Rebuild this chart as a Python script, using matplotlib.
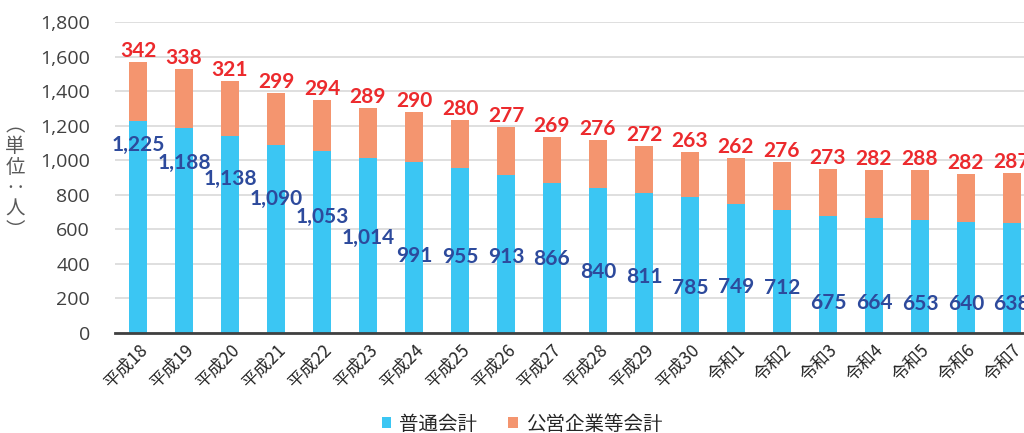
import matplotlib
matplotlib.use("Agg")
import matplotlib.pyplot as plt
import numpy as np
from matplotlib.patches import Patch

plt.rcParams["font.family"] = ["Noto Sans CJK JP", "DejaVu Sans"]

# ── データ ──
years = ["平成18", "平成19", "平成20", "平成21", "平成22", "平成23", "平成24",
         "平成25", "平成26", "平成27", "平成28", "平成29", "平成30",
         "令和1", "令和2", "令和3", "令和4", "令和5", "令和6", "令和7"]
general = [1225, 1188, 1138, 1090, 1053, 1014, 991, 955, 913, 866,
           840, 811, 785, 749, 712, 675, 664, 653, 640, 638]
enterprise = [342, 338, 321, 299, 294, 289, 290, 280, 277, 269,
              276, 272, 263, 262, 276, 273, 282, 288, 282, 287]

# 普通会計ラベルの縦位置（元図で手動配置されている）
label_y = [1088, 984, 891, 775, 671, 550, 446, 440, 440, 428,
           353, 324, 260, 266, 260, 174, 174, 168, 168, 168]

BLUE = "#3BC6F3"
SALMON = "#F4956F"
RED = "#EC2A2D"
NAVY = "#2D4A9C"

fig = plt.figure(figsize=(10.24, 4.33), dpi=100)
ax = fig.add_axes([115 / 1024, 100 / 433, 920 / 1024, 311 / 433])

x = np.arange(len(years))
w = 0.39
ax.bar(x, general, width=w, color=BLUE, edgecolor="none", zorder=2)
ax.bar(x, enterprise, width=w, bottom=general, color=SALMON,
       edgecolor="none", zorder=2)

num_font = dict(family=["Lato", "DejaVu Sans"], fontweight="bold", fontsize=15)
for xi, g, e, ly in zip(x, general, enterprise, label_y):
    ax.text(xi, ly, f"{g:,}", ha="center", va="center", color=NAVY,
            zorder=3, clip_on=False, **num_font)
    ax.text(xi, g + e + 6, f"{e:,}", ha="center", va="bottom", color=RED,
            zorder=3, clip_on=False, **num_font)

ax.set_xlim(-0.5, len(years) - 0.5)
ax.set_ylim(0, 1800)
ax.set_yticks(np.arange(0, 1801, 200))
ax.set_yticklabels([f"{v:,}" for v in range(0, 1801, 200)],
                   fontsize=14, color="#404040", family=["Open Sans", "DejaVu Sans"])
ax.set_xticks(x)
ax.set_xticklabels(years, rotation=45, ha="right", rotation_mode="anchor",
                   fontsize=12.5, color="#262626")
ax.tick_params(axis="y", length=0, pad=18)
ax.tick_params(axis="x", length=0, pad=6)

ax.yaxis.grid(True, color="#D9D9D9", linewidth=1.2, zorder=0)
ax.set_axisbelow(True)
for s in ["top", "right", "left"]:
    ax.spines[s].set_visible(False)
ax.spines["bottom"].set_color("#404040")
ax.spines["bottom"].set_linewidth(2)
ax.spines["bottom"].set_zorder(4)

# 縦書きの単位ラベル
fig.text(15 / 1024, 1 - 178 / 433, "︵\n単\n位\n‥\n人\n︶", ha="center",
         va="center", fontsize=14, color="#595959", linespacing=1.0)

handles = [Patch(facecolor=BLUE, label="普通会計"),
           Patch(facecolor=SALMON, label="公営企業等会計")]
fig.legend(handles=handles, loc="center", bbox_to_anchor=(522 / 1024, 1 - 424 / 433),
           ncol=2, frameon=False, fontsize=14, handlelength=0.5, handleheight=0.5,
           handletextpad=0.4, columnspacing=1.6, labelcolor="#262626")

fig.savefig("out.png", dpi=100, facecolor="white")
